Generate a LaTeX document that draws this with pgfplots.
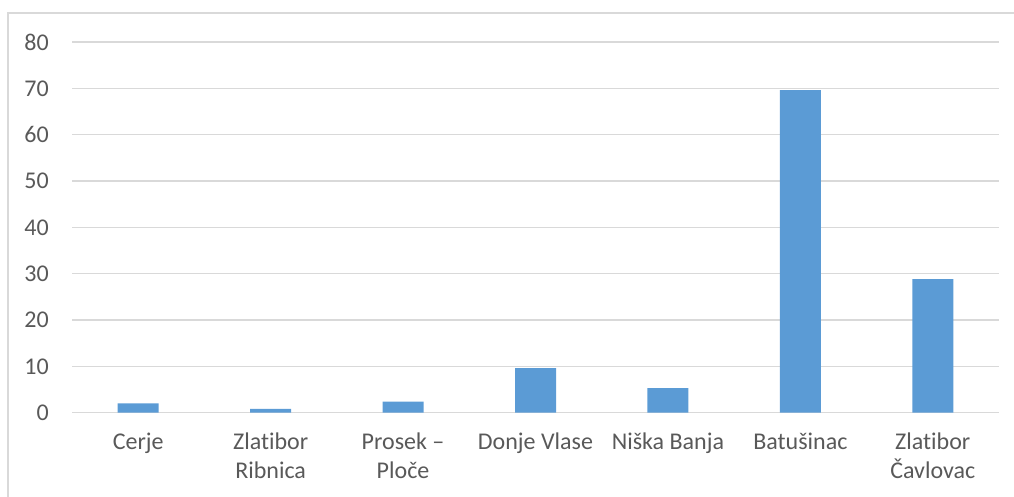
\documentclass[border=0pt]{standalone}
\usepackage{fontspec}
\setmainfont{Carlito}
\usepackage{pgfplots}
\pgfplotsset{compat=1.18}
\definecolor{barblue}{HTML}{5B9BD5}
\definecolor{gridgray}{HTML}{D9D9D9}
\definecolor{labelgray}{HTML}{595959}
\begin{document}
\begin{tikzpicture}[x=1pt,y=1pt]
\useasboundingbox (0,0) rectangle (1014,497);
\draw[gridgray, line width=1.5pt] (8,0) -- (8,484) -- (1014,484);
\begin{axis}[
  at={(72pt,84.3pt)}, anchor=south west,
  scale only axis,
  width=927pt, height=370.7pt,
  xmin=-0.5, xmax=6.5,
  ymin=0, ymax=80,
  ytick={0,10,...,80},
  xtick=data,
  xticklabels={Cerje, {Zlat\kern0pt ibor\\Ribnica}, {Prosek –\\Ploče}, Donje Vlase, Niška Banja, Batušinac, {Zlat\kern0pt ibor\\Čavlovac}},
  major tick length=0pt,
  ymajorgrids,
  grid style={gridgray, line width=1.4pt},
  axis x line*=bottom,
  axis y line*=left,
  x axis line style={gridgray, line width=1.4pt, -},
  y axis line style={draw=none},
  ticklabel style={font=\fontsize{24}{29}\selectfont, text=labelgray},
  xticklabel style={align=center, inner sep=0pt, yshift=-20pt},
  yticklabel style={inner sep=0pt, xshift=-23pt},
  /pgf/number format/assume math mode=true,
  ybar, bar width=41pt,
  clip=false,
]
\addplot[fill=barblue, draw=none] coordinates {
  (0,2.0) (1,0.8) (2,2.4) (3,9.6) (4,5.3) (5,69.6) (6,28.8)
};
\end{axis}
\end{tikzpicture}
\end{document}
